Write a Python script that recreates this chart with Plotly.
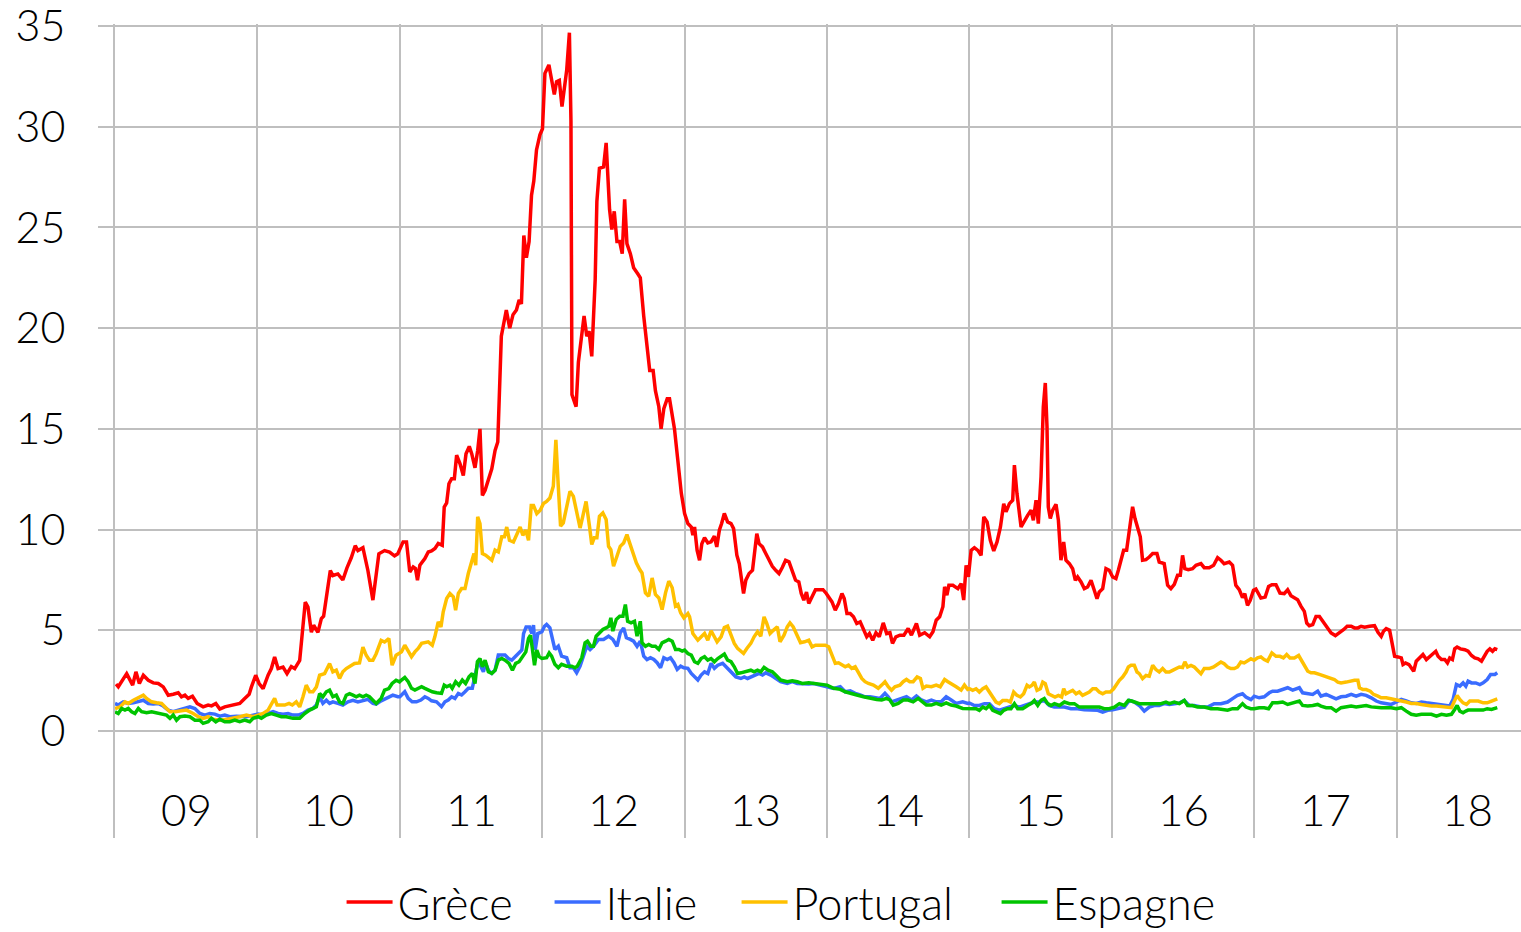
import plotly.graph_objects as go

# ---------------- data (decimal years, spread in points) ----------------
year_labels = ["09", "10", "11", "12", "13", "14", "15", "16", "17", "18"]
first_year = 2009

greece_t = [2009.007, 2009.023, 2009.082, 2009.124, 2009.147, 2009.171, 2009.199, 2009.234, 2009.269, 2009.304,
            2009.339, 2009.374, 2009.409, 2009.444, 2009.467, 2009.491, 2009.514, 2009.544, 2009.577, 2009.619,
            2009.654, 2009.678, 2009.708, 2009.736, 2009.771, 2009.806, 2009.853, 2009.876, 2009.911, 2009.942,
            2009.958, 2009.988, 2010.012, 2010.040, 2010.075, 2010.098, 2010.121, 2010.145, 2010.180, 2010.208,
            2010.238, 2010.262, 2010.297, 2010.336, 2010.355, 2010.379, 2010.395, 2010.425, 2010.449, 2010.465,
            2010.512, 2010.530, 2010.565, 2010.600, 2010.629, 2010.659, 2010.687, 2010.706, 2010.741, 2010.776,
            2010.811, 2010.834, 2010.853, 2010.893, 2010.928, 2010.963, 2010.986,
            2011.023, 2011.047, 2011.070, 2011.094, 2011.110, 2011.124, 2011.141, 2011.176, 2011.200, 2011.223,
            2011.247, 2011.270, 2011.298, 2011.312, 2011.329, 2011.345, 2011.364, 2011.383, 2011.399, 2011.423,
            2011.446, 2011.465, 2011.488, 2011.505, 2011.528, 2011.547, 2011.563, 2011.580, 2011.599, 2011.622,
            2011.646, 2011.669, 2011.688, 2011.713, 2011.748, 2011.772, 2011.795, 2011.819, 2011.838, 2011.854,
            2011.871, 2011.889, 2011.908, 2011.925, 2011.941, 2011.960, 2011.984,
            2012.002, 2012.019, 2012.047, 2012.066, 2012.085, 2012.101, 2012.120, 2012.139, 2012.172, 2012.191,
            2012.202, 2012.209, 2012.238, 2012.254, 2012.278, 2012.294, 2012.313, 2012.329, 2012.348, 2012.372,
            2012.384, 2012.402, 2012.431, 2012.449, 2012.473, 2012.489, 2012.506, 2012.525, 2012.544, 2012.562,
            2012.579, 2012.595, 2012.619, 2012.642, 2012.671, 2012.689, 2012.713, 2012.736, 2012.755, 2012.779,
            2012.795, 2012.819, 2012.835, 2012.854, 2012.878, 2012.894, 2012.913, 2012.929, 2012.950, 2012.977,
            2013.000, 2013.023, 2013.047, 2013.058, 2013.070, 2013.088, 2013.105, 2013.121, 2013.140, 2013.163,
            2013.186, 2013.209, 2013.226, 2013.244, 2013.260, 2013.279, 2013.302, 2013.326, 2013.344, 2013.367,
            2013.384, 2013.400, 2013.414, 2013.430, 2013.453, 2013.477, 2013.493, 2013.507, 2013.523, 2013.547,
            2013.570, 2013.593, 2013.616, 2013.640, 2013.663, 2013.686, 2013.709, 2013.733, 2013.756, 2013.779,
            2013.802, 2013.819, 2013.837, 2013.856, 2013.872, 2013.895, 2013.919, 2013.942, 2013.972, 2013.995,
            2014.012, 2014.035, 2014.058, 2014.081, 2014.105, 2014.121, 2014.140, 2014.163, 2014.186, 2014.209,
            2014.233, 2014.256, 2014.279, 2014.298, 2014.321, 2014.344, 2014.367, 2014.395, 2014.419, 2014.442,
            2014.460, 2014.484, 2014.512, 2014.540, 2014.570, 2014.593, 2014.628, 2014.651, 2014.686, 2014.721,
            2014.744, 2014.767, 2014.791, 2014.814, 2014.826, 2014.842, 2014.856, 2014.884, 2014.919, 2014.942,
            2014.960, 2014.977, 2014.993,
            2015.012, 2015.035, 2015.059, 2015.082, 2015.101, 2015.124, 2015.147, 2015.171, 2015.194, 2015.218,
            2015.241, 2015.257, 2015.281, 2015.304, 2015.316, 2015.334, 2015.363, 2015.386, 2015.409, 2015.433,
            2015.449, 2015.468, 2015.484, 2015.503, 2015.519, 2015.533, 2015.545, 2015.554, 2015.568, 2015.585,
            2015.608, 2015.625, 2015.643, 2015.662, 2015.678, 2015.702, 2015.725, 2015.744, 2015.760, 2015.784,
            2015.807, 2015.830, 2015.854, 2015.877, 2015.896, 2015.912, 2015.936, 2015.959, 2015.982,
            2016.006, 2016.029, 2016.046, 2016.064, 2016.083, 2016.104, 2016.123, 2016.146, 2016.163, 2016.181,
            2016.200, 2016.216, 2016.240, 2016.263, 2016.287, 2016.317, 2016.333, 2016.368, 2016.392, 2016.415,
            2016.439, 2016.462, 2016.481, 2016.497, 2016.513, 2016.537, 2016.567, 2016.591, 2016.626, 2016.649,
            2016.684, 2016.715, 2016.743, 2016.766, 2016.789, 2016.825, 2016.848, 2016.871, 2016.895, 2016.918,
            2016.934, 2016.953, 2016.972, 2016.995,
            2017.012, 2017.047, 2017.077, 2017.101, 2017.124, 2017.153, 2017.181, 2017.211, 2017.235, 2017.258,
            2017.282, 2017.305, 2017.329, 2017.352, 2017.369, 2017.387, 2017.411, 2017.434, 2017.458, 2017.481,
            2017.509, 2017.540, 2017.570, 2017.599, 2017.627, 2017.653, 2017.681, 2017.704, 2017.728, 2017.751,
            2017.775, 2017.810, 2017.845, 2017.869, 2017.892, 2017.908, 2017.927, 2017.951, 2017.969, 2017.986,
            2018.009, 2018.033, 2018.045, 2018.063, 2018.087, 2018.103, 2018.120, 2018.138, 2018.162, 2018.185,
            2018.209, 2018.232, 2018.256, 2018.275, 2018.291, 2018.315, 2018.338, 2018.357, 2018.373, 2018.392,
            2018.408, 2018.425, 2018.448, 2018.479, 2018.502, 2018.526, 2018.549, 2018.573, 2018.596, 2018.620,
            2018.636, 2018.655, 2018.674, 2018.690, 2018.707]
greece_v = [2.33, 2.2, 2.85, 2.28, 2.94, 2.36, 2.77, 2.52, 2.39, 2.36,
            2.19, 1.78, 1.83, 1.9, 1.7, 1.78, 1.62, 1.73, 1.37, 1.2,
            1.29, 1.25, 1.37, 1.09, 1.2, 1.25, 1.32, 1.37, 1.62, 1.83,
            2.19, 2.77, 2.36, 2.11, 2.77, 3.1, 3.68, 3.1, 3.18, 2.85,
            3.2, 3.1, 3.5, 6.4, 6.15, 4.9, 5.25, 4.9, 5.58, 5.7,
            7.97, 7.72, 7.8, 7.5, 8.1, 8.6, 9.2, 8.96, 9.1, 7.97,
            6.5, 7.8, 8.8, 8.96, 8.88, 8.7, 8.8,
            9.39, 9.39, 7.9, 8.15, 8.07, 7.49, 8.23, 8.56, 8.89, 8.94,
            9.06, 9.31, 9.22, 11.12, 11.32, 12.28, 12.53, 12.53, 13.69, 13.27,
            12.69, 13.77, 14.13, 13.77, 13.07, 13.93, 15.0, 11.7, 11.95, 12.45,
            13.02, 13.93, 14.35, 19.6, 20.9, 20.0, 20.67, 20.9, 21.4, 21.2,
            24.6, 23.5, 24.3, 26.6, 27.3, 28.85, 29.6,
            29.9, 32.65, 33.07, 32.4, 31.6, 32.24, 32.3, 31.0, 32.8, 34.67,
            30.3, 16.7, 16.1, 18.3, 19.6, 20.6, 19.6, 19.85, 18.6, 22.4,
            26.3, 27.94, 28.0, 29.2, 25.9, 24.9, 25.8, 24.3, 24.3, 23.7,
            26.4, 24.2, 23.7, 23.0, 22.7, 22.5, 20.6, 19.3, 17.9, 17.9,
            16.9, 16.1, 15.0, 16.0, 16.5, 16.5, 15.6, 15.0, 13.6, 11.8,
            10.8, 10.3, 10.13, 9.72, 10.13, 8.97, 8.48, 9.3, 9.6, 9.34,
            9.39, 9.67, 9.14, 9.97, 10.3, 10.8, 10.38, 10.3, 10.05, 8.73,
            8.31, 7.65, 6.83, 7.49, 7.82, 7.98, 8.81, 9.8, 9.3, 9.14,
            8.81, 8.48, 8.18, 7.98, 7.82, 8.12, 8.48, 8.4, 7.98, 7.49,
            7.4, 6.83, 6.5, 6.9, 6.33, 6.66, 7.02, 7.02, 7.02, 6.83,
            6.66, 6.41, 6.0, 6.33, 6.83, 6.58, 5.83, 5.83, 5.67, 5.34,
            5.42, 5.0, 4.68, 4.84, 4.51, 4.88, 4.68, 5.37, 4.84, 4.88,
            4.35, 4.68, 4.76, 4.76, 5.09, 4.76, 5.34, 4.76, 4.88, 4.68,
            4.93, 5.5, 5.67, 6.17, 7.16, 6.74, 7.24, 7.24, 7.07, 7.32,
            6.5, 8.23, 7.65,
            8.97, 9.1, 8.97, 8.72, 10.63, 10.38, 9.47, 8.94, 9.39, 10.13,
            11.29, 10.88, 11.29, 11.46, 13.2, 11.79, 10.13, 10.46, 10.71, 10.96,
            10.46, 11.46, 10.3, 12.62, 16.1, 17.28, 15.1, 11.13, 10.55, 10.96,
            11.26, 10.46, 8.48, 9.39, 8.48, 8.31, 8.06, 7.48, 7.65, 7.4,
            7.07, 7.15, 7.48, 6.99, 6.57, 6.9, 7.07, 8.06, 7.98,
            7.65, 7.57, 7.98, 8.48, 8.97, 8.97, 9.97, 11.13, 10.55, 10.05,
            9.64, 8.48, 8.51, 8.64, 8.81, 8.81, 8.39, 8.31, 7.24, 7.07,
            7.28, 7.73, 7.73, 8.72, 8.06, 8.01, 8.06, 8.23, 8.31, 8.11,
            8.11, 8.23, 8.61, 8.48, 8.31, 8.39, 8.23, 7.24, 7.02, 6.62,
            6.82, 6.24, 6.49, 6.99,
            7.05, 6.6, 6.65, 7.18, 7.26, 7.26, 6.85, 6.82, 7.01, 6.72,
            6.6, 6.52, 6.19, 5.94, 5.36, 5.23, 5.28, 5.69, 5.69, 5.45,
            5.12, 4.87, 4.74, 4.87, 5.03, 5.2, 5.2, 5.12, 5.12, 5.2,
            5.15, 5.2, 5.23, 4.9, 4.7, 4.95, 5.08, 5.0, 4.37, 3.71,
            3.68, 3.63, 3.3, 3.38, 3.3, 3.14, 2.97, 3.47, 3.63, 3.8,
            3.55, 3.71, 3.88, 3.96, 3.71, 3.55, 3.55, 3.38, 3.63, 3.55,
            4.08, 4.17, 4.08, 4.04, 3.96, 3.75, 3.63, 3.58, 3.47, 3.8,
            3.96, 4.08, 3.96, 4.08, 4.04]

italie_t = [2009.0, 2009.023, 2009.058, 2009.093, 2009.129, 2009.164, 2009.199, 2009.234, 2009.269, 2009.304,
            2009.339, 2009.374, 2009.409, 2009.444, 2009.479, 2009.526, 2009.561, 2009.596, 2009.631, 2009.666,
            2009.701, 2009.736, 2009.771, 2009.806, 2009.853, 2009.888, 2009.923, 2009.970,
            2010.005, 2010.040, 2010.075, 2010.110, 2010.145, 2010.180, 2010.215, 2010.250, 2010.285, 2010.320,
            2010.355, 2010.390, 2010.414, 2010.437, 2010.460, 2010.484, 2010.507, 2010.530, 2010.565, 2010.600,
            2010.636, 2010.671, 2010.706, 2010.741, 2010.776, 2010.811, 2010.834, 2010.869, 2010.893, 2010.928,
            2010.951, 2010.986,
            2011.0, 2011.035, 2011.059, 2011.087, 2011.117, 2011.148, 2011.176, 2011.200, 2011.223, 2011.258,
            2011.293, 2011.317, 2011.340, 2011.364, 2011.387, 2011.411, 2011.434, 2011.458, 2011.481, 2011.509,
            2011.528, 2011.552, 2011.570, 2011.587, 2011.603, 2011.622, 2011.646, 2011.669, 2011.692, 2011.716,
            2011.739, 2011.763, 2011.786, 2011.810, 2011.833, 2011.857, 2011.869, 2011.887, 2011.911, 2011.927,
            2011.939, 2011.951, 2011.969, 2011.998,
            2012.016, 2012.031, 2012.054, 2012.066, 2012.089, 2012.113, 2012.136, 2012.172, 2012.195, 2012.219,
            2012.242, 2012.266, 2012.289, 2012.313, 2012.336, 2012.360, 2012.395, 2012.431, 2012.466, 2012.496,
            2012.525, 2012.548, 2012.572, 2012.591, 2012.619, 2012.642, 2012.666, 2012.689, 2012.713, 2012.736,
            2012.760, 2012.784, 2012.807, 2012.831, 2012.854, 2012.878, 2012.901, 2012.925, 2012.948, 2012.972,
            2012.995,
            2013.023, 2013.047, 2013.070, 2013.093, 2013.116, 2013.140, 2013.163, 2013.186, 2013.209, 2013.233,
            2013.267, 2013.291, 2013.314, 2013.337, 2013.360, 2013.395, 2013.419, 2013.442, 2013.465, 2013.488,
            2013.523, 2013.547, 2013.570, 2013.605, 2013.640, 2013.674, 2013.721, 2013.756, 2013.791, 2013.837,
            2013.872, 2013.907, 2013.953,
            2014.0, 2014.047, 2014.093, 2014.128, 2014.163, 2014.198, 2014.233, 2014.267, 2014.302, 2014.337,
            2014.372, 2014.407, 2014.430, 2014.453, 2014.488, 2014.523, 2014.558, 2014.593, 2014.628, 2014.663,
            2014.698, 2014.733, 2014.767, 2014.802, 2014.837, 2014.872, 2014.907, 2014.953, 2014.988,
            2015.0, 2015.035, 2015.070, 2015.105, 2015.140, 2015.175, 2015.211, 2015.246, 2015.281, 2015.316,
            2015.351, 2015.386, 2015.421, 2015.456, 2015.491, 2015.526, 2015.561, 2015.596, 2015.632, 2015.667,
            2015.713, 2015.760, 2015.807, 2015.854, 2015.901, 2015.936, 2015.971,
            2016.006, 2016.053, 2016.088, 2016.123, 2016.158, 2016.193, 2016.228, 2016.263, 2016.298, 2016.333,
            2016.368, 2016.404, 2016.439, 2016.474, 2016.509, 2016.544, 2016.579, 2016.626, 2016.673, 2016.719,
            2016.766, 2016.813, 2016.848, 2016.883, 2016.918, 2016.942, 2016.977,
            2017.0, 2017.035, 2017.070, 2017.106, 2017.129, 2017.164, 2017.200, 2017.235, 2017.270, 2017.317,
            2017.340, 2017.376, 2017.411, 2017.446, 2017.469, 2017.505, 2017.540, 2017.575, 2017.610, 2017.646,
            2017.681, 2017.716, 2017.751, 2017.786, 2017.822, 2017.857, 2017.892, 2017.927, 2017.962, 2017.998,
            2018.033, 2018.068, 2018.103, 2018.138, 2018.174, 2018.209, 2018.244, 2018.280, 2018.315, 2018.350,
            2018.373, 2018.397, 2018.420, 2018.444, 2018.467, 2018.486, 2018.502, 2018.526, 2018.556, 2018.585,
            2018.608, 2018.636, 2018.660, 2018.690, 2018.707]
italie_v = [1.37, 1.29, 1.45, 1.37, 1.4, 1.45, 1.53, 1.37, 1.34, 1.37,
            1.24, 1.04, 0.96, 1.04, 1.12, 1.2, 1.12, 0.87, 0.79, 0.87,
            0.84, 0.74, 0.79, 0.71, 0.74, 0.71, 0.71, 0.79,
            0.84, 0.79, 0.87, 0.96, 0.87, 0.84, 0.87, 0.79, 0.79, 0.87,
            1.04, 1.12, 1.29, 1.7, 1.37, 1.53, 1.37, 1.45, 1.37, 1.29,
            1.45, 1.53, 1.45, 1.53, 1.57, 1.37, 1.34, 1.5, 1.57, 1.7,
            1.78, 1.7,
            1.7, 1.95, 1.62, 1.45, 1.45, 1.54, 1.7, 1.62, 1.5, 1.45,
            1.21, 1.45, 1.54, 1.7, 1.62, 1.87, 1.79, 1.95, 2.12, 2.12,
            2.69, 3.52, 3.19, 2.94, 3.36, 3.02, 2.86, 3.02, 3.77, 3.77,
            3.77, 3.6, 3.52, 3.69, 3.85, 4.02, 4.84, 5.17, 5.17, 4.84,
            5.26, 4.02, 4.84, 4.93,
            5.2, 5.29, 5.12, 4.71, 4.05, 4.21, 3.72, 3.64, 3.14, 3.14,
            2.89, 3.22, 3.72, 4.21, 4.05, 4.21, 4.55, 4.55, 4.71, 4.55,
            4.21, 4.88, 5.12, 4.63, 4.55, 4.46, 4.21, 4.46, 3.72, 3.55,
            3.64, 3.55, 3.39, 3.14, 3.64, 3.55, 3.64, 3.39, 3.06, 3.22,
            3.14,
            3.11, 2.86, 2.69, 2.53, 2.78, 2.94, 2.86, 3.36, 3.11, 3.27,
            3.36, 3.19, 3.02, 2.86, 2.69, 2.61, 2.69, 2.61, 2.69, 2.78,
            2.86, 2.78, 2.89, 2.78, 2.61, 2.45, 2.36, 2.45, 2.36, 2.33,
            2.33, 2.36, 2.28,
            2.2, 2.12, 2.2, 1.95, 2.0, 1.87, 1.79, 1.7, 1.7, 1.67,
            1.62, 1.87, 1.7, 1.45, 1.54, 1.62, 1.7, 1.54, 1.74, 1.54,
            1.45, 1.54, 1.45, 1.45, 1.7, 1.54, 1.37, 1.45, 1.37,
            1.39, 1.27, 1.27, 1.36, 1.36, 1.11, 1.03, 1.11, 1.19, 1.27,
            1.19, 1.27, 1.36, 1.44, 1.44, 1.52, 1.27, 1.19, 1.19, 1.19,
            1.11, 1.11, 1.06, 1.03, 1.03, 0.94, 1.03,
            1.06, 1.11, 1.19, 1.52, 1.44, 1.27, 0.99, 1.19, 1.27, 1.27,
            1.36, 1.32, 1.36, 1.39, 1.52, 1.27, 1.27, 1.19, 1.19, 1.36,
            1.36, 1.44, 1.61, 1.77, 1.85, 1.69, 1.56,
            1.73, 1.65, 1.7, 1.9, 1.98, 1.98, 2.06, 2.15, 2.03, 2.15,
            1.9, 1.86, 1.82, 1.98, 1.73, 1.82, 1.7, 1.6, 1.7, 1.73,
            1.82, 1.73, 1.82, 1.77, 1.65, 1.49, 1.4, 1.37, 1.32, 1.44,
            1.57, 1.49, 1.4, 1.37, 1.44, 1.4, 1.37, 1.32, 1.32, 1.27,
            1.24, 1.57, 2.31, 2.23, 2.39, 2.23, 2.48, 2.39, 2.39, 2.31,
            2.39, 2.56, 2.81, 2.81, 2.89]

portugal_t = [2009.0, 2009.035, 2009.070, 2009.093, 2009.129, 2009.164, 2009.199, 2009.222, 2009.257, 2009.292,
              2009.327, 2009.362, 2009.386, 2009.421, 2009.456, 2009.502, 2009.549, 2009.584, 2009.619, 2009.654,
              2009.689, 2009.736, 2009.783, 2009.829, 2009.876, 2009.923, 2009.970,
              2010.005, 2010.040, 2010.075, 2010.098, 2010.121, 2010.138, 2010.161, 2010.192, 2010.222, 2010.245,
              2010.273, 2010.297, 2010.320, 2010.343, 2010.367, 2010.390, 2010.414, 2010.437, 2010.472, 2010.507,
              2010.530, 2010.554, 2010.577, 2010.600, 2010.624, 2010.647, 2010.682, 2010.717, 2010.741, 2010.764,
              2010.787, 2010.811, 2010.834, 2010.869, 2010.893, 2010.923, 2010.946, 2010.974, 2010.998,
              2011.012, 2011.035, 2011.059, 2011.082, 2011.106, 2011.129, 2011.153, 2011.176, 2011.200, 2011.228,
              2011.246, 2011.270, 2011.289, 2011.305, 2011.329, 2011.352, 2011.376, 2011.392, 2011.411, 2011.434,
              2011.458, 2011.481, 2011.505, 2011.521, 2011.533, 2011.547, 2011.563, 2011.580, 2011.603, 2011.622,
              2011.646, 2011.669, 2011.692, 2011.716, 2011.735, 2011.751, 2011.770, 2011.798, 2011.822, 2011.845,
              2011.864, 2011.885, 2011.904, 2011.923, 2011.939, 2011.962, 2011.986,
              2012.009, 2012.031, 2012.054, 2012.078, 2012.096, 2012.113, 2012.129, 2012.148, 2012.172, 2012.195,
              2012.219, 2012.242, 2012.266, 2012.285, 2012.308, 2012.332, 2012.348, 2012.365, 2012.384, 2012.402,
              2012.426, 2012.449, 2012.466, 2012.482, 2012.501, 2012.525, 2012.548, 2012.572, 2012.595, 2012.614,
              2012.638, 2012.661, 2012.685, 2012.701, 2012.725, 2012.748, 2012.772, 2012.795, 2012.819, 2012.842,
              2012.866, 2012.889, 2012.913, 2012.936, 2012.953, 2012.972, 2012.995,
              2013.023, 2013.035, 2013.058, 2013.093, 2013.116, 2013.140, 2013.163, 2013.186, 2013.209, 2013.228,
              2013.256, 2013.279, 2013.302, 2013.326, 2013.349, 2013.372, 2013.395, 2013.414, 2013.437, 2013.465,
              2013.488, 2013.512, 2013.535, 2013.558, 2013.577, 2013.600, 2013.623, 2013.651, 2013.670, 2013.698,
              2013.721, 2013.740, 2013.763, 2013.791, 2013.814, 2013.842, 2013.872, 2013.895, 2013.919, 2013.953,
              2013.988,
              2014.012, 2014.035, 2014.058, 2014.081, 2014.105, 2014.128, 2014.151, 2014.174, 2014.198, 2014.221,
              2014.244, 2014.267, 2014.291, 2014.326, 2014.360, 2014.384, 2014.407, 2014.430, 2014.453, 2014.477,
              2014.512, 2014.535, 2014.558, 2014.581, 2014.605, 2014.633, 2014.656, 2014.674, 2014.698, 2014.733,
              2014.767, 2014.795, 2014.826, 2014.849, 2014.872, 2014.907, 2014.942, 2014.965, 2014.988,
              2015.0, 2015.023, 2015.047, 2015.070, 2015.094, 2015.117, 2015.140, 2015.164, 2015.187, 2015.210,
              2015.234, 2015.264, 2015.288, 2015.311, 2015.334, 2015.358, 2015.381, 2015.405, 2015.421, 2015.440,
              2015.456, 2015.475, 2015.498, 2015.515, 2015.533, 2015.554, 2015.578, 2015.601, 2015.625, 2015.648,
              2015.662, 2015.678, 2015.702, 2015.725, 2015.749, 2015.772, 2015.795, 2015.819, 2015.842, 2015.866,
              2015.889, 2015.912, 2015.936, 2015.959, 2015.989,
              2016.013, 2016.029, 2016.053, 2016.076, 2016.100, 2016.116, 2016.135, 2016.158, 2016.177, 2016.193,
              2016.216, 2016.240, 2016.263, 2016.287, 2016.310, 2016.333, 2016.357, 2016.380, 2016.404, 2016.427,
              2016.450, 2016.474, 2016.497, 2016.513, 2016.532, 2016.556, 2016.579, 2016.602, 2016.626, 2016.649,
              2016.684, 2016.715, 2016.743, 2016.766, 2016.789, 2016.813, 2016.836, 2016.860, 2016.883, 2016.906,
              2016.930, 2016.953, 2016.977, 2016.999,
              2017.023, 2017.047, 2017.070, 2017.094, 2017.124, 2017.153, 2017.181, 2017.205, 2017.228, 2017.251,
              2017.282, 2017.312, 2017.329, 2017.352, 2017.376, 2017.399, 2017.423, 2017.458, 2017.493, 2017.528,
              2017.563, 2017.587, 2017.610, 2017.646, 2017.669, 2017.704, 2017.728, 2017.739, 2017.763, 2017.786,
              2017.815, 2017.838, 2017.869, 2017.892, 2017.927, 2017.962, 2017.998,
              2018.033, 2018.068, 2018.103, 2018.138, 2018.174, 2018.209, 2018.244, 2018.280, 2018.315, 2018.350,
              2018.385, 2018.401, 2018.425, 2018.444, 2018.467, 2018.491, 2018.514, 2018.538, 2018.573, 2018.608,
              2018.636, 2018.667, 2018.707]
portugal_v = [1.12, 1.2, 1.45, 1.37, 1.53, 1.67, 1.78, 1.62, 1.45, 1.4,
              1.37, 1.12, 0.96, 0.96, 1.01, 1.04, 0.87, 0.71, 0.63, 0.71,
              0.58, 0.54, 0.58, 0.63, 0.71, 0.79, 0.71,
              0.79, 0.87, 1.04, 1.37, 1.62, 1.29, 1.29, 1.29, 1.37, 1.29,
              1.45, 1.2, 1.7, 2.28, 1.95, 1.95, 2.19, 2.77, 2.85, 3.35,
              2.94, 3.02, 2.61, 2.94, 3.1, 3.18, 3.35, 3.38, 4.17, 3.76,
              3.51, 3.51, 3.84, 4.5, 4.42, 4.59, 3.27, 3.76, 3.84,
              3.93, 4.26, 3.93, 3.69, 3.93, 4.1, 4.35, 4.38, 4.43, 4.26,
              4.68, 5.42, 5.17, 5.92, 6.58, 6.83, 6.66, 6.0, 6.83, 7.07,
              7.07, 7.82, 8.4, 8.81, 8.23, 10.63, 10.3, 8.81, 8.73, 8.64,
              8.48, 8.98, 8.89, 9.64, 9.64, 10.13, 9.47, 9.39, 9.8, 10.13,
              9.72, 9.97, 9.47, 11.2, 11.2, 10.79, 10.96,
              11.3, 11.4, 11.57, 12.15, 14.46, 12.15, 10.17, 10.33, 11.16, 11.9,
              11.65, 10.83, 10.08, 10.66, 11.4, 10.17, 9.26, 9.59, 9.59, 10.66,
              10.83, 10.5, 9.17, 9.0, 8.18, 8.68, 9.17, 9.34, 9.75, 9.34,
              8.84, 8.35, 8.02, 7.85, 6.86, 6.69, 7.6, 6.78, 6.61, 6.03,
              6.86, 7.44, 7.11, 6.2, 6.28, 5.87, 5.62,
              5.83, 5.67, 4.84, 4.51, 4.68, 4.84, 4.51, 4.98, 4.68, 4.43,
              4.68, 5.14, 5.21, 4.76, 4.35, 4.1, 3.93, 3.85, 4.1, 4.35,
              4.68, 4.93, 4.71, 5.67, 5.34, 4.84, 5.0, 5.17, 4.43, 4.76,
              5.17, 5.37, 5.17, 4.76, 4.38, 4.43, 4.51, 4.18, 4.26, 4.26,
              4.26,
              4.18, 3.77, 3.36, 3.39, 3.27, 3.19, 3.27, 3.11, 3.19, 2.86,
              2.61, 2.45, 2.36, 2.28, 2.12, 2.28, 2.45, 2.2, 2.03, 2.2,
              2.28, 2.45, 2.56, 2.45, 2.45, 2.69, 2.61, 2.12, 2.23, 2.2,
              2.28, 2.2, 2.56, 2.45, 2.36, 2.2, 2.03, 2.28, 2.07,
              2.1, 2.02, 2.1, 1.94, 2.1, 2.19, 1.94, 1.69, 1.44, 1.36,
              1.52, 1.52, 1.44, 1.94, 1.77, 1.69, 1.85, 2.27, 2.19, 2.27,
              2.43, 2.02, 2.1, 2.43, 2.35, 1.85, 1.77, 1.69, 1.77, 1.69,
              2.1, 1.85, 1.94, 2.02, 1.85, 1.94, 1.77, 1.85, 1.94, 2.1,
              2.1, 1.94, 1.85, 1.94, 1.94,
              2.1, 2.27, 2.52, 2.68, 2.93, 3.18, 3.26, 3.26, 2.93, 2.85,
              2.6, 2.76, 2.72, 3.26, 3.05, 2.93, 3.1, 2.93, 2.93, 3.01,
              3.1, 3.18, 3.15, 3.43, 3.18, 3.26, 3.18, 3.01, 2.85, 3.1,
              3.1, 3.18, 3.34, 3.43, 3.34, 3.18, 3.1, 3.1, 3.18, 3.43,
              3.38, 3.51, 3.59, 3.51,
              3.63, 3.68, 3.55, 3.47, 3.88, 3.71, 3.71, 3.63, 3.8, 3.63,
              3.63, 3.75, 3.55, 3.22, 2.97, 2.89, 2.89, 2.81, 2.72, 2.64,
              2.56, 2.43, 2.39, 2.43, 2.48, 2.52, 2.52, 2.15, 2.06, 2.06,
              1.98, 1.82, 1.73, 1.65, 1.65, 1.6, 1.57,
              1.53, 1.44, 1.37, 1.37, 1.32, 1.27, 1.24, 1.24, 1.2, 1.2,
              1.16, 1.4, 1.77, 1.57, 1.4, 1.32, 1.49, 1.49, 1.49, 1.4,
              1.4, 1.49, 1.6]

espagne_t = [2009.0, 2009.023, 2009.047, 2009.070, 2009.093, 2009.117, 2009.140, 2009.164, 2009.187, 2009.222,
             2009.257, 2009.292, 2009.327, 2009.362, 2009.386, 2009.409, 2009.432, 2009.456, 2009.491, 2009.526,
             2009.561, 2009.596, 2009.619, 2009.654, 2009.678, 2009.708, 2009.736, 2009.771, 2009.806, 2009.841,
             2009.876, 2009.911, 2009.946, 2009.970,
             2010.005, 2010.028, 2010.063, 2010.098, 2010.133, 2010.168, 2010.203, 2010.250, 2010.297, 2010.332,
             2010.367, 2010.390, 2010.414, 2010.437, 2010.460, 2010.484, 2010.507, 2010.530, 2010.554, 2010.577,
             2010.600, 2010.624, 2010.647, 2010.671, 2010.694, 2010.717, 2010.741, 2010.764, 2010.787, 2010.811,
             2010.834, 2010.869, 2010.893, 2010.923, 2010.946, 2010.974, 2010.998,
             2011.012, 2011.035, 2011.059, 2011.082, 2011.106, 2011.129, 2011.153, 2011.176, 2011.200, 2011.228,
             2011.258, 2011.293, 2011.312, 2011.329, 2011.352, 2011.368, 2011.392, 2011.415, 2011.439, 2011.462,
             2011.486, 2011.509, 2011.528, 2011.545, 2011.563, 2011.580, 2011.599, 2011.622, 2011.646, 2011.669,
             2011.692, 2011.716, 2011.739, 2011.767, 2011.791, 2011.814, 2011.838, 2011.861, 2011.885, 2011.904,
             2011.918, 2011.932, 2011.946, 2011.962, 2011.979, 2011.998,
             2012.016, 2012.031, 2012.049, 2012.066, 2012.089, 2012.113, 2012.136, 2012.172, 2012.207, 2012.231,
             2012.247, 2012.278, 2012.301, 2012.318, 2012.341, 2012.360, 2012.379, 2012.402, 2012.426, 2012.449,
             2012.468, 2012.482, 2012.496, 2012.520, 2012.544, 2012.567, 2012.584, 2012.600, 2012.624, 2012.648,
             2012.666, 2012.689, 2012.701, 2012.725, 2012.748, 2012.772, 2012.795, 2012.819, 2012.842, 2012.866,
             2012.889, 2012.913, 2012.936, 2012.960, 2012.983,
             2013.0, 2013.023, 2013.047, 2013.070, 2013.093, 2013.116, 2013.140, 2013.163, 2013.186, 2013.209,
             2013.233, 2013.256, 2013.279, 2013.302, 2013.326, 2013.349, 2013.372, 2013.395, 2013.419, 2013.442,
             2013.465, 2013.488, 2013.512, 2013.535, 2013.558, 2013.586, 2013.616, 2013.640, 2013.674, 2013.721,
             2013.756, 2013.791, 2013.826, 2013.872, 2013.907, 2013.953,
             2014.0, 2014.047, 2014.093, 2014.128, 2014.163, 2014.209, 2014.256, 2014.302, 2014.349, 2014.384,
             2014.419, 2014.442, 2014.465, 2014.500, 2014.535, 2014.570, 2014.605, 2014.640, 2014.674, 2014.698,
             2014.733, 2014.767, 2014.802, 2014.837, 2014.872, 2014.907, 2014.953, 2014.988,
             2015.023, 2015.047, 2015.070, 2015.094, 2015.117, 2015.140, 2015.164, 2015.187, 2015.218, 2015.241,
             2015.269, 2015.292, 2015.316, 2015.339, 2015.374, 2015.409, 2015.433, 2015.456, 2015.480, 2015.503,
             2015.526, 2015.550, 2015.573, 2015.597, 2015.632, 2015.667, 2015.702, 2015.737, 2015.772, 2015.807,
             2015.842, 2015.877, 2015.912, 2015.947, 2015.982,
             2016.018, 2016.053, 2016.088, 2016.116, 2016.140, 2016.163, 2016.193, 2016.240, 2016.275, 2016.310,
             2016.345, 2016.380, 2016.404, 2016.439, 2016.474, 2016.509, 2016.532, 2016.567, 2016.602, 2016.649,
             2016.696, 2016.743, 2016.778, 2016.813, 2016.848, 2016.883, 2016.918, 2016.942, 2016.977,
             2017.0, 2017.035, 2017.070, 2017.101, 2017.129, 2017.164, 2017.200, 2017.235, 2017.270, 2017.317,
             2017.340, 2017.376, 2017.411, 2017.446, 2017.469, 2017.505, 2017.540, 2017.575, 2017.610, 2017.646,
             2017.681, 2017.716, 2017.751, 2017.786, 2017.822, 2017.857, 2017.892, 2017.927, 2017.962, 2017.998,
             2018.033, 2018.068, 2018.103, 2018.138, 2018.174, 2018.209, 2018.244, 2018.280, 2018.315, 2018.350,
             2018.385, 2018.408, 2018.425, 2018.444, 2018.467, 2018.486, 2018.502, 2018.538, 2018.573, 2018.608,
             2018.636, 2018.667, 2018.707]
espagne_v = [0.96, 0.87, 1.12, 1.04, 1.12, 0.96, 0.87, 1.12, 0.96, 0.91,
             0.96, 0.91, 0.87, 0.79, 0.63, 0.79, 0.54, 0.71, 0.74, 0.71,
             0.54, 0.54, 0.38, 0.46, 0.63, 0.46, 0.58, 0.46, 0.46, 0.54,
             0.46, 0.54, 0.46, 0.63,
             0.71, 0.63, 0.79, 0.87, 0.79, 0.71, 0.71, 0.63, 0.63, 0.87,
             1.04, 1.12, 1.2, 1.86, 1.7, 1.95, 2.03, 1.7, 1.78, 1.45,
             1.37, 1.78, 1.86, 1.78, 1.7, 1.78, 1.7, 1.78, 1.7, 1.53,
             1.37, 1.62, 2.03, 2.11, 2.36, 2.52, 2.44,
             2.53, 2.66, 2.45, 2.12, 2.03, 2.12, 2.2, 2.12, 2.03, 1.95,
             1.9, 1.87, 2.28, 2.2, 2.28, 2.12, 2.45, 2.28, 2.53, 2.36,
             2.69, 2.86, 2.36, 3.44, 3.6, 3.19, 3.52, 2.94, 2.86, 3.02,
             3.52, 3.6, 3.52, 3.36, 3.02, 3.36, 3.44, 3.69, 3.93, 4.6,
             4.76, 4.02, 3.27, 4.02, 3.69, 3.6,
             3.64, 3.64, 3.88, 3.72, 3.31, 3.14, 3.31, 3.22, 3.22, 3.14,
             3.22, 3.64, 4.38, 4.46, 4.21, 4.21, 4.71, 4.88, 5.04, 5.12,
             5.21, 5.62, 4.96, 5.54, 5.7, 5.7, 6.28, 5.45, 5.37, 5.45,
             4.71, 5.45, 4.38, 4.21, 4.3, 4.21, 4.21, 4.05, 4.38, 4.46,
             4.55, 4.46, 4.05, 4.05, 3.97,
             4.02, 3.85, 3.77, 3.44, 3.36, 3.6, 3.69, 3.52, 3.6, 3.44,
             3.6, 3.69, 3.82, 3.52, 3.44, 3.19, 2.86, 2.89, 2.94, 2.99,
             3.02, 2.94, 3.02, 2.94, 3.16, 3.02, 2.94, 2.78, 2.53, 2.45,
             2.5, 2.45, 2.36, 2.4, 2.36, 2.33,
             2.28, 2.12, 2.07, 1.95, 1.9, 1.79, 1.7, 1.62, 1.57, 1.54,
             1.62, 1.54, 1.29, 1.37, 1.54, 1.54, 1.45, 1.62, 1.45, 1.29,
             1.29, 1.37, 1.29, 1.4, 1.29, 1.24, 1.12, 1.12,
             1.15, 1.11, 1.03, 1.19, 1.11, 1.27, 1.03, 0.94, 0.86, 1.03,
             1.11, 1.11, 1.36, 1.11, 1.11, 1.27, 1.36, 1.52, 1.27, 1.52,
             1.61, 1.36, 1.27, 1.36, 1.27, 1.44, 1.36, 1.36, 1.19, 1.19,
             1.19, 1.23, 1.19, 1.11, 1.11,
             1.19, 1.36, 1.27, 1.52, 1.49, 1.44, 1.36, 1.36, 1.36, 1.39,
             1.36, 1.44, 1.36, 1.44, 1.36, 1.52, 1.27, 1.27, 1.19, 1.19,
             1.11, 1.11, 1.06, 1.03, 1.11, 1.11, 1.36, 1.19, 1.11,
             1.11, 1.16, 1.16, 1.11, 1.4, 1.4, 1.44, 1.32, 1.4, 1.49,
             1.27, 1.24, 1.27, 1.32, 1.24, 1.16, 1.16, 0.99, 1.16, 1.2,
             1.24, 1.2, 1.24, 1.27, 1.2, 1.16, 1.16, 1.16, 1.16, 1.11,
             1.16, 0.99, 0.83, 0.78, 0.83, 0.83, 0.83, 0.74, 0.83, 0.78,
             0.83, 1.07, 1.27, 0.99, 0.91, 0.99, 1.04, 1.04, 1.04, 1.04,
             1.11, 1.07, 1.16]

series = [
    ("Grèce", greece_t, greece_v, "#FF0000", 147),
    ("Italie", italie_t, italie_v, "#3A6CFF", 126),
    ("Portugal", portugal_t, portugal_v, "#FFC000", 199),
    ("Espagne", espagne_t, espagne_v, "#00C400", 175),
]

# ---------------- figure ----------------
FONT = "Lato, Carlito, 'Open Sans', sans-serif"
GRID = "#BFBFBF"

fig = go.Figure()
for name, t, v, color, lw in series:
    fig.add_trace(go.Scatter(x=t, y=v, mode="lines", name=name,
                             line=dict(color=color, width=3.5),
                             legendwidth=lw))

n_years = len(year_labels)
years = [first_year + i for i in range(n_years)]

for y0, lab in zip(years, year_labels):
    fig.add_annotation(x=y0 + 0.5, y=-3.85, xref="x", yref="y", text=lab,
                       showarrow=False,
                       font=dict(family=FONT, size=44, color="#000000", weight=300),
                       xanchor="center", yanchor="middle")

fig.update_layout(
    width=1521, height=932,
    margin=dict(l=115, r=0, t=24, b=94, autoexpand=False),
    paper_bgcolor="white", plot_bgcolor="white",
    font=dict(family=FONT, color="#000000"),
    showlegend=True,
    legend=dict(orientation="h", x=0.478, xanchor="center", y=-0.079, yanchor="middle",
                font=dict(family=FONT, size=45, color="#000000", weight=300),
                bgcolor="rgba(0,0,0,0)", itemwidth=46, tracegroupgap=0),
    xaxis=dict(range=[first_year, first_year + 1406 / 142.4],
               tickmode="array", tickvals=years + [first_year + n_years],
               showticklabels=False, ticks="",
               showgrid=True, gridcolor=GRID, gridwidth=2,
               zeroline=False, showline=False, fixedrange=True),
    yaxis=dict(range=[-5.31, 35.1],
               tickmode="array", tickvals=[0, 5, 10, 15, 20, 25, 30, 35],
               ticks="outside", ticklen=15, tickcolor=GRID, tickwidth=2,
               ticklabelstandoff=24, ticklabeloverflow="allow",
               tickfont=dict(family=FONT, size=43, color="#000000", weight=300),
               showgrid=True, gridcolor=GRID, gridwidth=2,
               zeroline=False, showline=True, linecolor=GRID, linewidth=2,
               fixedrange=True),
)

fig.write_html("out.html",
               config={"displayModeBar": False},
               post_script="document.body.style.margin='0';document.body.style.overflow='hidden';")
